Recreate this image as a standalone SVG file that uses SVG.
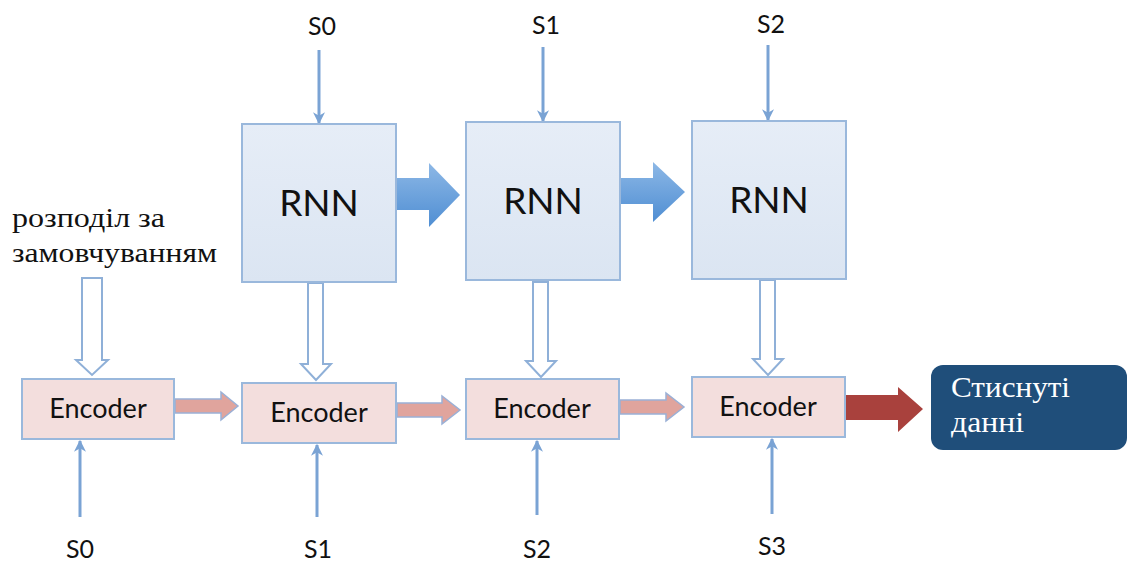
<svg xmlns="http://www.w3.org/2000/svg" width="1132" height="563" viewBox="0 0 1132 563">
<defs>
  <linearGradient id="gBlue" x1="0" y1="0" x2="0" y2="1">
    <stop offset="0" stop-color="#8db8e6"/>
    <stop offset="1" stop-color="#4f8ed3"/>
  </linearGradient>
  <linearGradient id="gRnn" x1="0" y1="0" x2="0" y2="1">
    <stop offset="0" stop-color="#e6edf7"/>
    <stop offset="1" stop-color="#dbe5f2"/>
  </linearGradient>
  <marker id="ah" viewBox="0 0 10 10" refX="9" refY="5" markerWidth="4" markerHeight="4" orient="auto">
    <path d="M0,0 L10,5 L0,10 L3,5 Z" fill="#7aa3d4"/>
  </marker>
</defs>
<style>
  .rnn { fill: url(#gRnn); stroke: #9ab8dc; stroke-width: 2; }
  .enc { fill: #f3dedd; stroke: #9ab8dc; stroke-width: 2; }
  .sans { font-family: Lato, "Open Sans", "DejaVu Sans", sans-serif; fill: #111; }
  .rnnT { font-size: 37px; text-anchor: middle; }
  .encT { font-size: 27px; text-anchor: middle; }
  .sT { font-size: 25px; text-anchor: middle; }
  .serif { font-family: "Liberation Serif", "DejaVu Serif", serif; }
  .thin { stroke: #7aa3d4; stroke-width: 3; fill: none; marker-end: url(#ah); }
  .hollow { fill: #ffffff; stroke: #8fb0d8; stroke-width: 2; stroke-linejoin: miter; }
  .blueA { fill: url(#gBlue); stroke: none; }
  .pinkA { fill: #e0a49d; stroke: #9ab0d6; stroke-width: 1.5; }
</style>
<rect width="1132" height="563" fill="#ffffff"/>

<g id="connectors">
  <!-- top input arrows -->
  <line class="thin" x1="319" y1="50" x2="319" y2="123"/>
  <line class="thin" x1="543" y1="47" x2="543" y2="121"/>
  <line class="thin" x1="768" y1="45" x2="768" y2="120"/>
  <!-- bottom input arrows -->
  <line class="thin" x1="80" y1="517" x2="80" y2="441"/>
  <line class="thin" x1="317" y1="517" x2="317" y2="445"/>
  <line class="thin" x1="537" y1="515" x2="537" y2="441"/>
  <line class="thin" x1="772" y1="514" x2="772" y2="439"/>
  <!-- RNN to RNN block arrows -->
  <path class="blueA" d="M396,178 L429,178 L429,163 L460,195 L429,227 L429,210 L396,210 Z"/>
  <path class="blueA" d="M620,178 L653,178 L653,162 L685,192 L653,222 L653,204 L620,204 Z"/>
  <!-- hollow arrows down -->
  <path class="hollow" d="M82,278 L102,278 L102,360 L108,360 L92,375 L76,360 L82,360 Z"/>
  <path class="hollow" d="M308,283 L323,283 L323,364 L331,364 L316,380 L301,364 L308,364 Z"/>
  <path class="hollow" d="M533,282 L548,282 L548,361 L556,361 L541,377 L526,361 L533,361 Z"/>
  <path class="hollow" d="M760,280 L775,280 L775,359 L783,359 L768,375 L753,359 L760,359 Z"/>
  <!-- encoder to encoder arrows -->
  <path class="pinkA" d="M175,399 L221,399 L221,392 L238,406 L221,420 L221,413 L175,413 Z"/>
  <path class="pinkA" d="M397,403 L442,403 L442,396 L460,410 L442,424 L442,417 L397,417 Z"/>
  <path class="pinkA" d="M620,400 L666,400 L666,393 L684,407 L666,421 L666,414 L620,414 Z"/>
  <!-- final dark red arrow -->
  <path d="M846,395 L898,395 L898,387 L923,409 L898,432 L898,420 L846,420 Z" fill="#a9413d"/>
</g>

<g id="rnn1">
  <rect class="rnn" x="242" y="124" width="154" height="158"/>
  <text class="sans rnnT" x="319" y="216">RNN</text>
</g>
<g id="rnn2">
  <rect class="rnn" x="466" y="122" width="154" height="158"/>
  <text class="sans rnnT" x="543" y="214">RNN</text>
</g>
<g id="rnn3">
  <rect class="rnn" x="692" y="121" width="154" height="158"/>
  <text class="sans rnnT" x="769" y="213">RNN</text>
</g>

<g id="enc1">
  <rect class="enc" x="22" y="379" width="152" height="60"/>
  <text class="sans encT" x="98" y="418">Encoder</text>
</g>
<g id="enc2">
  <rect class="enc" x="242" y="383" width="154" height="60"/>
  <text class="sans encT" x="319" y="422">Encoder</text>
</g>
<g id="enc3">
  <rect class="enc" x="466" y="379" width="153" height="60"/>
  <text class="sans encT" x="542" y="418">Encoder</text>
</g>
<g id="enc4">
  <rect class="enc" x="692" y="377" width="153" height="60"/>
  <text class="sans encT" x="768" y="416">Encoder</text>
</g>

<g id="output">
  <rect x="931" y="365" width="196" height="85" rx="12" ry="12" fill="#1f4e7a"/>
  <text class="serif" x="951" y="397" font-size="29" fill="#ffffff" textLength="119" lengthAdjust="spacingAndGlyphs">Стиснуті</text>
  <text class="serif" x="951" y="432" font-size="29" fill="#ffffff" textLength="73" lengthAdjust="spacingAndGlyphs">данні</text>
</g>

<g id="default-label">
  <text class="serif" x="12" y="227" font-size="27" fill="#111" textLength="153" lengthAdjust="spacingAndGlyphs">розподіл за</text>
  <text class="serif" x="12" y="262" font-size="27" fill="#111" textLength="205" lengthAdjust="spacingAndGlyphs">замовчуванням</text>
</g>

<g id="labels">
  <text class="sans sT" x="322" y="35">S0</text>
  <text class="sans sT" x="546" y="34">S1</text>
  <text class="sans sT" x="771" y="33">S2</text>
  <text class="sans sT" x="80" y="558">S0</text>
  <text class="sans sT" x="318" y="558">S1</text>
  <text class="sans sT" x="537" y="558">S2</text>
  <text class="sans sT" x="772" y="555">S3</text>
</g>
</svg>
